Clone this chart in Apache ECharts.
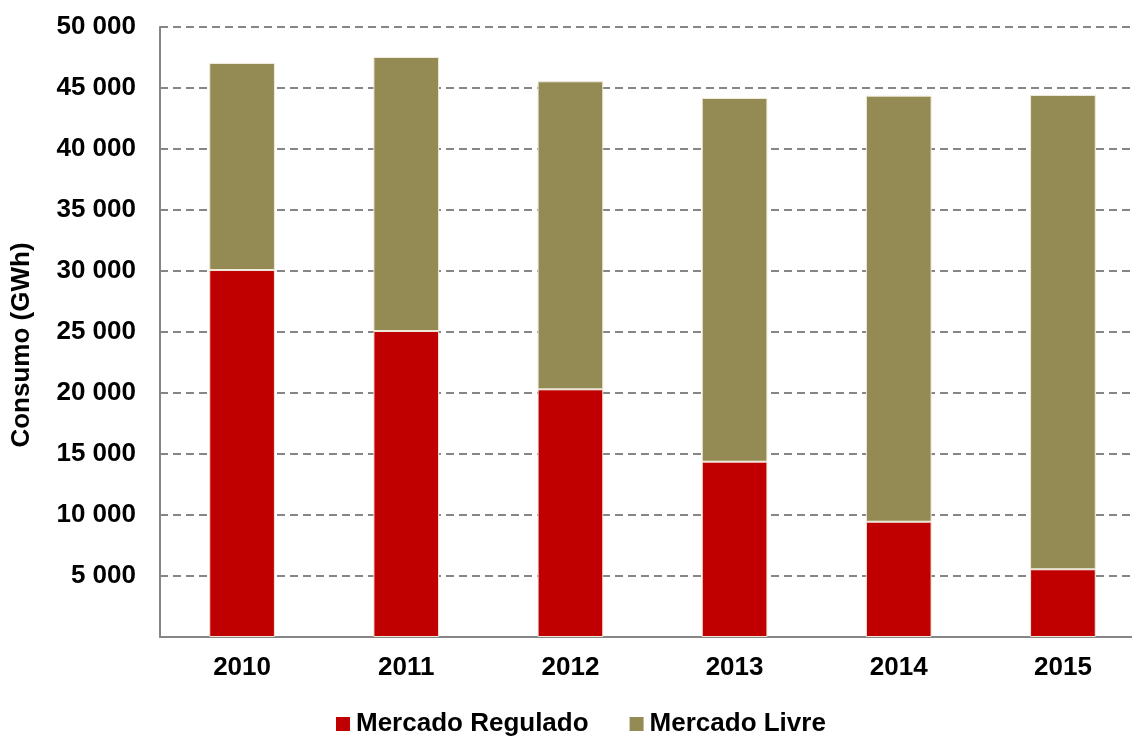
<!DOCTYPE html>
<html>
<head>
<meta charset="UTF-8">
<title>Consumo</title>
<script src="https://cdn.jsdelivr.net/npm/echarts@6/dist/echarts.min.js"></script>
<style>
  html, body { margin: 0; padding: 0; background: #fff; overflow: hidden; }
  #chart { width: 1132px; height: 736px; }
</style>
</head>
<body>
<div id="chart"></div>
<script>
// dados (GWh)
var anos = ['2010', '2011', '2012', '2013', '2014', '2015'];
var regulado = [30080, 25080, 20300, 14370, 9450, 5550];
var livre = [16970, 22460, 25250, 29810, 34920, 38880];
var nomes = ['Mercado Regulado', 'Mercado Livre'];

var fonte = '"Liberation Sans", Arial, sans-serif';

function milhar(v) {
  if (v === 0) return '';
  return String(v).replace(/\B(?=(\d{3})+(?!\d))/g, ' ');
}

var chart = echarts.init(document.getElementById('chart'));
var option = {
  animation: false,
  textStyle: { fontFamily: fonte },
  grid: { left: 160, width: 985, top: 27, height: 610, outerBoundsMode: 'none' },
  legend: {
    data: nomes,
    top: 706,
    left: 331,
    itemWidth: 14,
    itemHeight: 14,
    itemGap: 41,
    icon: 'rect',
    itemStyle: { borderWidth: 0 },
    textStyle: { fontSize: 26, fontWeight: 'bold', color: '#000', fontFamily: fonte, padding: [0, 0, 0, 1] }
  },
  xAxis: {
    type: 'category',
    data: anos,
    axisLine: { lineStyle: { color: '#868686', width: 2 } },
    axisTick: { show: false },
    axisLabel: { fontSize: 26, fontWeight: 'bold', color: '#000', margin: 18, fontFamily: fonte }
  },
  yAxis: {
    type: 'value',
    min: 0,
    max: 50000,
    interval: 5000,
    name: 'Consumo (GWh)',
    nameLocation: 'middle',
    nameGap: 125,
    nameTextStyle: { fontSize: 26, fontWeight: 'bold', color: '#000', fontFamily: fonte, padding: [0, 26, 0, 0] },
    axisLine: { show: true, lineStyle: { color: '#868686', width: 2 } },
    axisTick: { show: false },
    axisLabel: { fontSize: 26, fontWeight: 'bold', color: '#000', margin: 24, formatter: milhar, fontFamily: fonte },
    splitLine: { lineStyle: { color: '#868686', width: 2, type: [8, 5] } }
  },
  series: [{
    name: nomes[0],
    type: 'bar',
    stack: 'total',
    barWidth: '40%',
    data: regulado,
    itemStyle: { color: '#C00000', borderColor: '#f0e6d8', borderWidth: 1 }
  }, {
    name: nomes[1],
    type: 'bar',
    stack: 'total',
    data: livre,
    itemStyle: { color: '#948A54', borderColor: '#efeadb', borderWidth: 1 }
  }]
};
chart.setOption(option);
</script>
</body>
</html>
